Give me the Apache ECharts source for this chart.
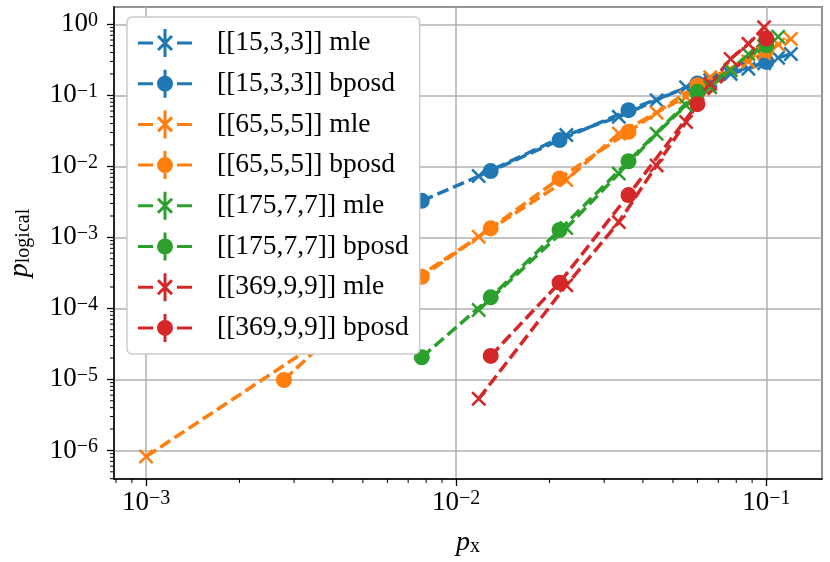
<!DOCTYPE html>
<html>
<head>
<meta charset="utf-8">
<title>p_logical vs p_x</title>
<script src="https://cdn.jsdelivr.net/npm/echarts@6/dist/echarts.min.js"></script>
<style>
  html, body { margin: 0; padding: 0; background: #fff; }
  #main { width: 830px; height: 562px; }
</style>
</head>
<body>
<div id="main"></div>
<script>
// codes and colours
var codeNames = ['[[15,3,3]]', '[[65,5,5]]', '[[175,7,7]]', '[[369,9,9]]'];
var codeColors = ['#1f77b4', '#ff7f0e', '#2ca02c', '#d62728'];

// mle decoder: physical error rates and logical error rates (null = no point)
var pxMle = [0.001, 0.01182, 0.02264, 0.03345, 0.04427, 0.05509, 0.06591, 0.07673, 0.08755, 0.09836, 0.10918, 0.12];
var mle15  = [null, 0.00728, 0.0275, 0.0497, 0.0853, 0.13, 0.163, 0.2, 0.237, 0.283, 0.338, 0.382];
var mle65  = [8.2e-7, 0.00102, 0.0064, 0.029, 0.057, 0.095, 0.18, 0.23, 0.30, 0.39, 0.52, 0.62];
var mle175 = [null, 9.5e-5, 0.00135, 0.0079, 0.0288, 0.0726, 0.13, 0.225, 0.382, 0.49, 0.667, null];
var mle369 = [null, 5.35e-6, 2.11e-4, 0.00164, 0.0103, 0.042, 0.145, 0.325, 0.53, 0.908, null, null];

// bposd decoder
var pxBposd = [0.002783, 0.004642, 0.007743, 0.01292, 0.02154, 0.03594, 0.05995, 0.1];
var bposd15  = [null, null, 0.00327, 0.00856, 0.0234, 0.0617, 0.147, 0.295];
var bposd65  = [9.8e-6, 8e-5, 2.79e-4, 0.00134, 0.00676, 0.0306, 0.139, 0.431];
var bposd175 = [null, null, 2.05e-5, 1.43e-4, 0.00127, 0.0118, 0.112, 0.507];
var bposd369 = [null, null, null, 2.14e-5, 2.3e-4, 0.00394, 0.075, 0.63];

// axis limits
var xMin = 7.88e-4, xMax = 0.1512;
var yMin = 3.96e-7, yMax = 1.751;

var FONT = 'Liberation Serif';
var mleSets = [mle15, mle65, mle175, mle369];
var bposdSets = [bposd15, bposd65, bposd175, bposd369];

function pairs(xs, ys) {
  var out = [];
  for (var i = 0; i < xs.length; i++) {
    if (ys[i] != null) out.push([xs[i], ys[i]]);
  }
  return out;
}

// markers
var xMark = 'path://M1.2,0L10,8.8L8.8,10L0,1.2Z M8.8,0L10,1.2L1.2,10L0,8.8Z';
var iconBposd = 'path://M0,12.5H15V15.5H0Z M39,12.5H54V15.5H39Z M25.5,0H28.5V28H25.5Z ' +
  'M19,14A8,8,0,1,1,35,14A8,8,0,1,1,19,14Z';
var iconMle = 'path://M0,12.5H15V15.5H0Z M39,12.5H54V15.5H39Z M25.5,0H28.5V28H25.5Z ' +
  'M21.06,5.94L35.06,19.94L32.94,22.06L18.94,8.06Z M18.94,19.94L32.94,5.94L35.06,8.06L21.06,22.06Z';

var series = [];
var legendData = [];
for (var c = 0; c < codeNames.length; c++) {
  var nm = codeNames[c] + ' mle', nb = codeNames[c] + ' bposd';
  series.push({
    name: nm, type: 'line', data: pairs(pxMle, mleSets[c]),
    symbol: xMark, symbolSize: 15, color: codeColors[c],
    itemStyle: { color: codeColors[c], borderWidth: 0 },
    lineStyle: { color: codeColors[c], width: 3.5, type: [12, 5] },
    emphasis: { disabled: true }
  });
  series.push({
    name: nb, type: 'line', data: pairs(pxBposd, bposdSets[c]),
    symbol: 'circle', symbolSize: 16, color: codeColors[c],
    itemStyle: { color: codeColors[c], borderWidth: 0 },
    lineStyle: { color: codeColors[c], width: 3.5, type: [12, 5] },
    emphasis: { disabled: true }
  });
  legendData.push({ name: nm, icon: iconMle });
  legendData.push({ name: nb, icon: iconBposd });
}

// log minor ticks
var minorX = [], minorY = [];
for (var k = -7; k <= 0; k++) {
  for (var m = 2; m <= 9; m++) {
    var v = m * Math.pow(10, k);
    if (v > xMin && v < xMax) minorX.push([v, yMin]);
    if (v > yMin && v < yMax) minorY.push([xMin, v]);
  }
}
function minorTick(dir) {
  return function (params, api) {
    var p = api.coord([api.value(0), api.value(1)]);
    var shape = dir === 'x'
      ? { x1: p[0], y1: p[1], x2: p[0], y2: p[1] + 4 }
      : { x1: p[0] - 4, y1: p[1], x2: p[0], y2: p[1] };
    return { type: 'line', shape: shape, style: { stroke: '#000', lineWidth: 1 } };
  };
}
series.push({ type: 'custom', data: minorX, renderItem: minorTick('x'), silent: true, clip: false, z: 3 });
series.push({ type: 'custom', data: minorY, renderItem: minorTick('y'), silent: true, clip: false, z: 3 });

function powLabel(v) {
  var e = Math.log10(v), r = Math.round(e);
  if (Math.abs(e - r) > 1e-6) return '';
  return '{b|10}{e|' + (r < 0 ? '\u2212' + (-r) : r) + '}';
}
var tickRich = {
  b: { fontFamily: FONT, fontSize: 27, color: '#000' },
  e: { fontFamily: FONT, fontSize: 20, color: '#000', verticalAlign: 'top' }
};

var chart = echarts.init(document.getElementById('main'));
chart.setOption({
  animation: false,
  backgroundColor: '#fff',
  grid: {
    left: 114, right: 8, top: 7, bottom: 83, outerBoundsMode: 'none',
    show: true, borderColor: '#000', borderWidth: 1.5
  },
  legend: {
    data: legendData, orient: 'vertical', left: 127, top: 17,
    padding: [12, 11, 12, 11], itemWidth: 54, itemHeight: 28, itemGap: 12.7,
    backgroundColor: '#fff', borderColor: '#cccccc', borderWidth: 1.5, borderRadius: 5,
    selectedMode: false,
    textStyle: { fontFamily: FONT, fontSize: 27.5, color: '#000', padding: [0, 0, 0, 20] }
  },
  xAxis: {
    type: 'log', logBase: 10, min: xMin, max: xMax,
    axisLine: { show: true, onZero: false, lineStyle: { color: '#000', width: 1.5 } },
    axisTick: { show: true, length: 7, lineStyle: { color: '#000', width: 1.3 } },
    axisLabel: { formatter: powLabel, rich: tickRich, margin: 10, showMinLabel: false, showMaxLabel: false },
    splitLine: { show: true, lineStyle: { color: '#b0b0b0', width: 1.5 } },
    name: '{p|p}{s|x}', nameLocation: 'middle', nameGap: 50,
    nameTextStyle: { rich: {
      p: { fontFamily: FONT, fontStyle: 'italic', fontSize: 28, color: '#000' },
      s: { fontFamily: FONT, fontSize: 20, color: '#000', verticalAlign: 'bottom' }
    } }
  },
  yAxis: {
    type: 'log', logBase: 10, min: yMin, max: yMax,
    axisLine: { show: true, onZero: false, lineStyle: { color: '#000', width: 1.5 } },
    axisTick: { show: true, length: 7, lineStyle: { color: '#000', width: 1.3 } },
    axisLabel: { formatter: powLabel, rich: tickRich, margin: 16, showMinLabel: false, showMaxLabel: false },
    splitLine: { show: true, lineStyle: { color: '#b0b0b0', width: 1.5 } },
    name: '{p|p}{s|logical}', nameLocation: 'middle', nameGap: 80, nameRotate: 90,
    nameTextStyle: { rich: {
      p: { fontFamily: FONT, fontStyle: 'italic', fontSize: 28, color: '#000' },
      s: { fontFamily: FONT, fontSize: 20, color: '#000', verticalAlign: 'bottom' }
    } }
  },
  series: series
});

window.onresize = function () { chart.resize(); };
</script>
</body>
</html>
